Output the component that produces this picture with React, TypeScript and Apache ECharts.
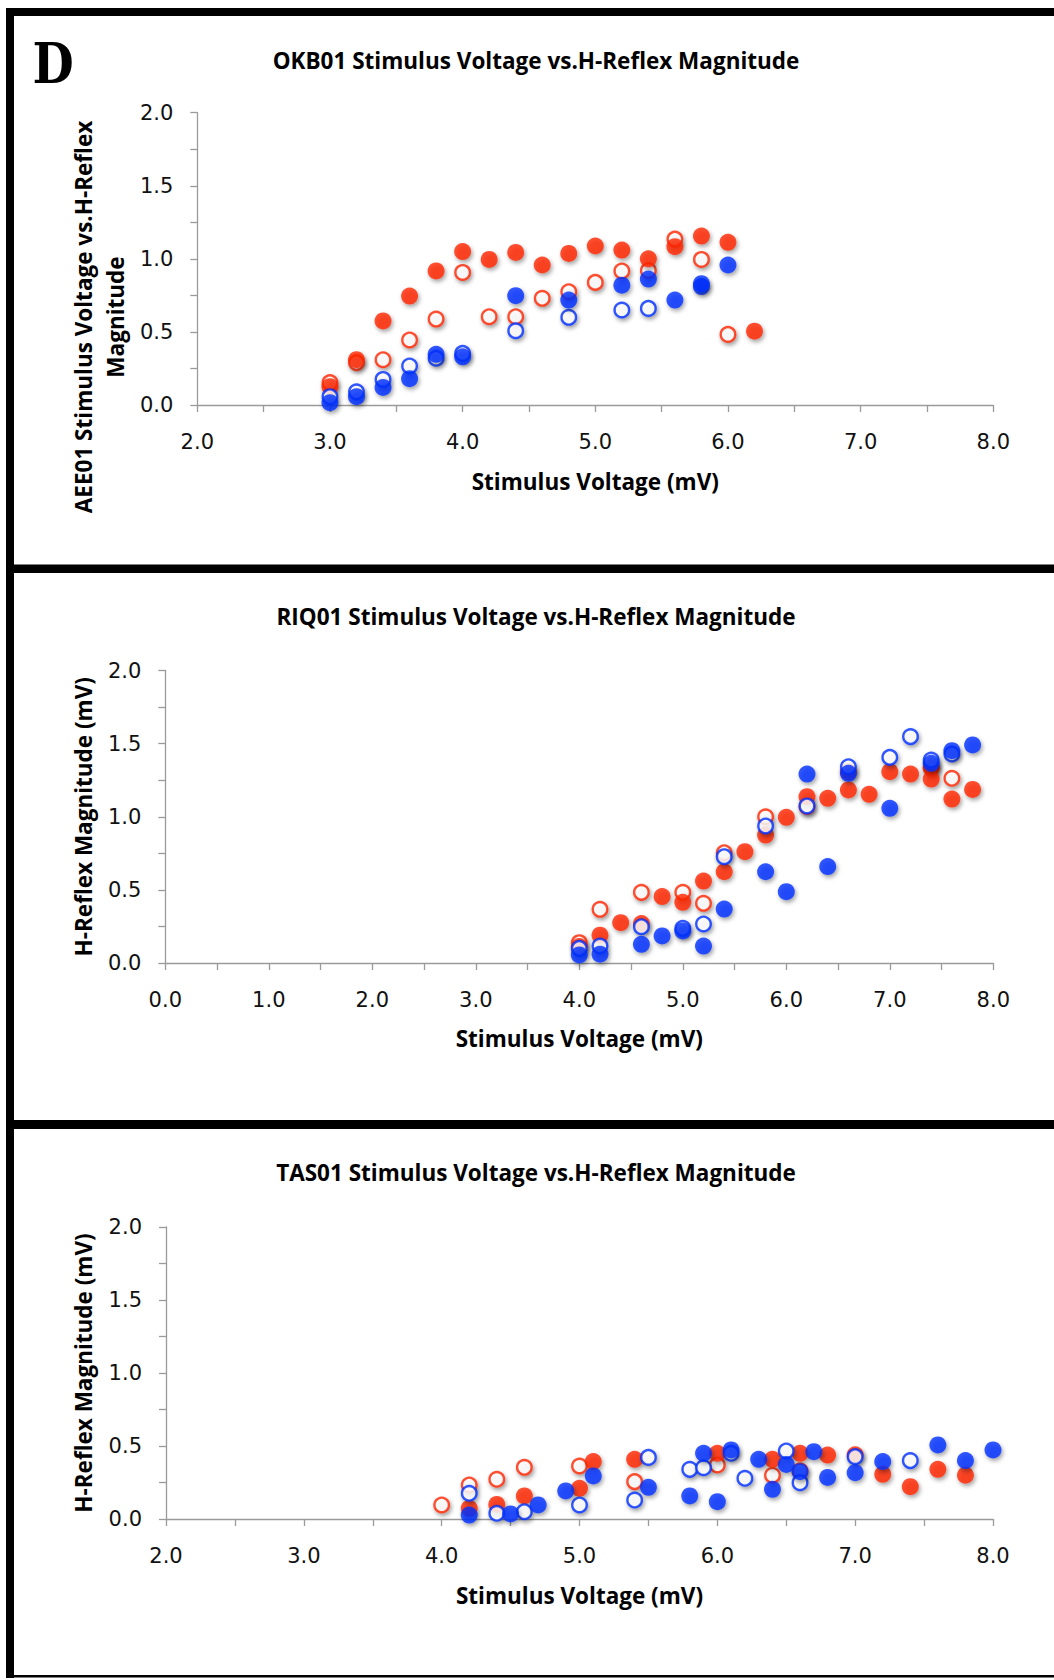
import React, { useEffect, useRef } from "react";
import * as echarts from "echarts";

// ---------- Data ----------
const panelTitles = [
  "OKB01 Stimulus Voltage vs.H-Reflex Magnitude",
  "RIQ01 Stimulus Voltage vs.H-Reflex Magnitude",
  "TAS01 Stimulus Voltage vs.H-Reflex Magnitude",
];
const xAxisTitle = "Stimulus Voltage (mV)";
const yTitlePanel1 = ["AEE01 Stimulus Voltage vs.H-Reflex", "Magnitude"];
const yTitleOther = "H-Reflex Magnitude (mV)";
const xRanges = [
  [2, 8],
  [0, 8],
  [2, 8],
];
const yRange = [0, 2];

// Panel 1 (OKB01)
const p1RedFilled = [[3.0,0.125],[3.2,0.31],[3.4,0.575],[3.6,0.745],[3.8,0.917],[4.0,1.05],[4.2,0.996],[4.4,1.044],[4.6,0.958],[4.8,1.037],[5.0,1.088],[5.2,1.06],[5.4,1.0],[5.6,1.083],[5.8,1.156],[6.0,1.113],[6.2,0.505]];
const p1RedOpen = [[3.0,0.153],[3.2,0.29],[3.4,0.31],[3.6,0.445],[3.8,0.588],[4.0,0.907],[4.2,0.604],[4.4,0.604],[4.6,0.73],[4.8,0.775],[5.0,0.839],[5.2,0.917],[5.4,0.92],[5.6,1.135],[5.8,0.996],[6.0,0.483]];
const p1BlueFilled = [[3.0,0.016],[3.2,0.057],[3.4,0.12],[3.6,0.18],[3.8,0.347],[4.0,0.33],[4.4,0.748],[4.8,0.718],[5.2,0.82],[5.4,0.862],[5.6,0.718],[5.8,0.81],[5.8,0.83],[6.0,0.958]];
const p1BlueOpen = [[3.0,0.057],[3.2,0.09],[3.4,0.175],[3.6,0.267],[3.8,0.32],[4.0,0.353],[4.4,0.508],[4.8,0.60],[5.2,0.65],[5.4,0.661]];

// Panel 2 (RIQ01)
const p2RedFilled = [[4.0,0.112],[4.2,0.19],[4.4,0.276],[4.6,0.27],[4.8,0.454],[5.0,0.415],[5.2,0.56],[5.4,0.624],[5.6,0.761],[5.8,0.875],[6.0,0.996],[6.2,1.137],[6.4,1.126],[6.6,1.308],[6.6,1.183],[6.8,1.153],[7.0,1.308],[7.2,1.292],[7.4,1.331],[7.4,1.258],[7.6,1.121],[7.8,1.187]];
const p2RedOpen = [[4.0,0.139],[4.2,0.367],[4.6,0.483],[5.0,0.483],[5.2,0.408],[5.4,0.754],[5.8,1.0],[6.2,1.07],[7.4,1.34],[7.6,1.263]];
const p2BlueFilled = [[4.0,0.055],[4.2,0.06],[4.6,0.128],[4.8,0.185],[5.0,0.219],[5.2,0.116],[5.4,0.369],[5.8,0.624],[6.0,0.488],[6.2,1.292],[6.4,0.659],[6.6,1.297],[7.0,1.058],[7.4,1.365],[7.6,1.452],[7.8,1.491]];
const p2BlueOpen = [[4.0,0.10],[4.2,0.116],[4.6,0.248],[5.0,0.237],[5.2,0.267],[5.4,0.727],[5.8,0.937],[6.2,1.074],[6.6,1.342],[7.0,1.406],[7.2,1.548],[7.4,1.388],[7.6,1.429]];

// Panel 3 (TAS01)
const p3RedFilled = [[4.2,0.073],[4.4,0.10],[4.6,0.158],[5.0,0.21],[5.1,0.393],[5.4,0.409],[6.0,0.45],[6.4,0.409],[6.6,0.45],[6.8,0.438],[7.0,0.44],[7.2,0.306],[7.4,0.221],[7.6,0.34],[7.8,0.30]];
const p3RedOpen = [[4.0,0.096],[4.2,0.233],[4.4,0.272],[4.6,0.354],[5.0,0.363],[5.4,0.256],[6.0,0.37],[6.4,0.30],[6.6,0.33]];
const p3BlueFilled = [[4.2,0.027],[4.5,0.035],[4.7,0.096],[4.9,0.192],[5.1,0.295],[5.5,0.217],[5.8,0.158],[5.9,0.45],[6.0,0.119],[6.1,0.473],[6.3,0.409],[6.4,0.203],[6.5,0.374],[6.6,0.324],[6.7,0.461],[6.8,0.285],[7.0,0.317],[7.2,0.393],[7.6,0.507],[7.8,0.40],[8.0,0.473]];
const p3BlueOpen = [[4.2,0.176],[4.4,0.039],[4.6,0.05],[5.0,0.096],[5.4,0.13],[5.5,0.422],[5.8,0.34],[5.9,0.351],[6.1,0.45],[6.2,0.279],[6.5,0.466],[6.6,0.249],[7.0,0.427],[7.4,0.40]];

const panels = [
  { redOpen: p1RedOpen, redFilled: p1RedFilled, blueOpen: p1BlueOpen, blueFilled: p1BlueFilled },
  { redOpen: p2RedOpen, redFilled: p2RedFilled, blueOpen: p2BlueOpen, blueFilled: p2BlueFilled },
  { redOpen: p3RedOpen, redFilled: p3RedFilled, blueOpen: p3BlueOpen, blueFilled: p3BlueFilled },
];

// ---------- Styling / layout ----------
const RED = "#ff2600";
const BLUE = "#0030ff";
const AXIS_GRAY = "#9a9a9a";
const TITLE_FONT = "'Open Sans'";
const TICK_FONT = "DejaVu Sans";

const grids = [
  { left: 197.3, top: 112.7, width: 796, height: 292.3 },
  { left: 165.3, top: 670.5, width: 828, height: 292.5 },
  { left: 166, top: 1227, width: 827, height: 292 },
];
const titleY = [60, 616, 1172];
const xTitleY = [481, 1038, 1595];

const shadow = {
  shadowColor: "rgba(0,0,0,0.45)",
  shadowBlur: 4,
  shadowOffsetX: 1.5,
  shadowOffsetY: 2.5,
};

function buildOption() {
  const gridOpts: any[] = [];
  const xAxes: any[] = [];
  const yAxes: any[] = [];
  const series: any[] = [];
  const graphics: any[] = [];

  grids.forEach((g, i) => {
    gridOpts.push({ ...g, containLabel: false });
    xAxes.push({
      type: "value",
      gridIndex: i,
      min: xRanges[i][0],
      max: xRanges[i][1],
      interval: 1,
      axisLine: { show: true, onZero: false, lineStyle: { color: AXIS_GRAY, width: 1.3 } },
      axisTick: { show: true, length: 7, lineStyle: { color: AXIS_GRAY, width: 1.3 } },
      minorTick: { show: true, splitNumber: 2, length: 7, lineStyle: { color: AXIS_GRAY, width: 1.3 } },
      splitLine: { show: false },
      axisLabel: {
        fontFamily: TICK_FONT,
        fontSize: 21,
        color: "#111",
        margin: 26,
        formatter: (v: number) => v.toFixed(1),
      },
    });
    yAxes.push({
      type: "value",
      gridIndex: i,
      min: yRange[0],
      max: yRange[1],
      interval: 0.5,
      axisLine: { show: true, onZero: false, lineStyle: { color: AXIS_GRAY, width: 1.3 } },
      axisTick: { show: true, length: 7, lineStyle: { color: AXIS_GRAY, width: 1.3 } },
      minorTick: { show: true, splitNumber: 2, length: 7, lineStyle: { color: AXIS_GRAY, width: 1.3 } },
      splitLine: { show: false },
      axisLabel: {
        fontFamily: TICK_FONT,
        fontSize: 21,
        color: "#111",
        margin: 24,
        formatter: (v: number) => v.toFixed(1),
      },
    });

    const p = panels[i];
    const mk = (data: number[][], color: string, filled: boolean) => ({
      type: "scatter",
      xAxisIndex: i,
      yAxisIndex: i,
      data,
      symbol: "circle",
      symbolSize: filled ? 17 : 14.5,
      itemStyle: filled
        ? { color, ...shadow }
        : { color: "#ffffff", borderColor: color, borderWidth: 2.4, ...shadow },
      emphasis: { disabled: true },
    });
    series.push(mk(p.redOpen, RED, false));
    series.push(mk(p.redFilled, RED, true));
    series.push(mk(p.blueOpen, BLUE, false));
    series.push(mk(p.blueFilled, BLUE, true));

    // panel title
    graphics.push({
      type: "text",
      x: 536,
      y: titleY[i],
      style: {
        text: panelTitles[i],
        font: `bold 22.5px ${TITLE_FONT}`,
        fill: "#000",
        textAlign: "center",
        textVerticalAlign: "middle",
      },
    });
    // x axis title
    graphics.push({
      type: "text",
      x: g.left + g.width / 2,
      y: xTitleY[i],
      style: {
        text: xAxisTitle,
        font: `bold 22.5px ${TITLE_FONT}`,
        fill: "#000",
        textAlign: "center",
        textVerticalAlign: "middle",
      },
    });
  });

  // y axis titles
  graphics.push({
    type: "text",
    x: 83.5,
    y: 317,
    rotation: Math.PI / 2,
    style: { text: yTitlePanel1[0], font: `bold 22.5px ${TITLE_FONT}`, fill: "#000", textAlign: "center", textVerticalAlign: "middle" },
  });
  graphics.push({
    type: "text",
    x: 115.5,
    y: 317,
    rotation: Math.PI / 2,
    style: { text: yTitlePanel1[1], font: `bold 22.5px ${TITLE_FONT}`, fill: "#000", textAlign: "center", textVerticalAlign: "middle" },
  });
  [1, 2].forEach((i) => {
    const g = grids[i];
    graphics.push({
      type: "text",
      x: 83.5,
      y: g.top + g.height / 2,
      rotation: Math.PI / 2,
      style: { text: yTitleOther, font: `bold 22.5px ${TITLE_FONT}`, fill: "#000", textAlign: "center", textVerticalAlign: "middle" },
    });
  });

  // panel letter
  graphics.push({
    type: "text",
    x: 53,
    y: 63,
    scaleX: 0.88,
    scaleY: 1.05,
    style: {
      text: "D",
      font: "bold 54px 'DejaVu Serif'",
      fill: "#000",
      textAlign: "center",
      textVerticalAlign: "middle",
      shadowColor: "rgba(0,0,0,0.4)",
      shadowBlur: 3,
      shadowOffsetX: 2,
      shadowOffsetY: 2,
    },
  });

  // black frame
  const bars = [
    { x: 6, y: 8, width: 1048, height: 8 },
    { x: 6, y: 8, width: 8, height: 1670 },
    { x: 6, y: 564.5, width: 1048, height: 8.5 },
    { x: 6, y: 1120, width: 1048, height: 9 },
    { x: 6, y: 1675, width: 1048, height: 2.5 },
  ];
  bars.forEach((b) =>
    graphics.push({ type: "rect", shape: b, style: { fill: "#000" }, silent: true })
  );

  return {
    animation: false,
    backgroundColor: "#ffffff",
    grid: gridOpts,
    xAxis: xAxes,
    yAxis: yAxes,
    series,
    graphic: graphics,
  };
}

export default function App() {
  const ref = useRef<HTMLDivElement>(null);
  useEffect(() => {
    if (!ref.current) return;
    const chart = echarts.init(ref.current, undefined, { renderer: "svg" });
    chart.setOption(buildOption() as any);
    return () => chart.dispose();
  }, []);
  return (
    <div
      ref={ref}
      style={{ position: "absolute", left: 0, top: 0, width: 1054, height: 1680 }}
    />
  );
}
